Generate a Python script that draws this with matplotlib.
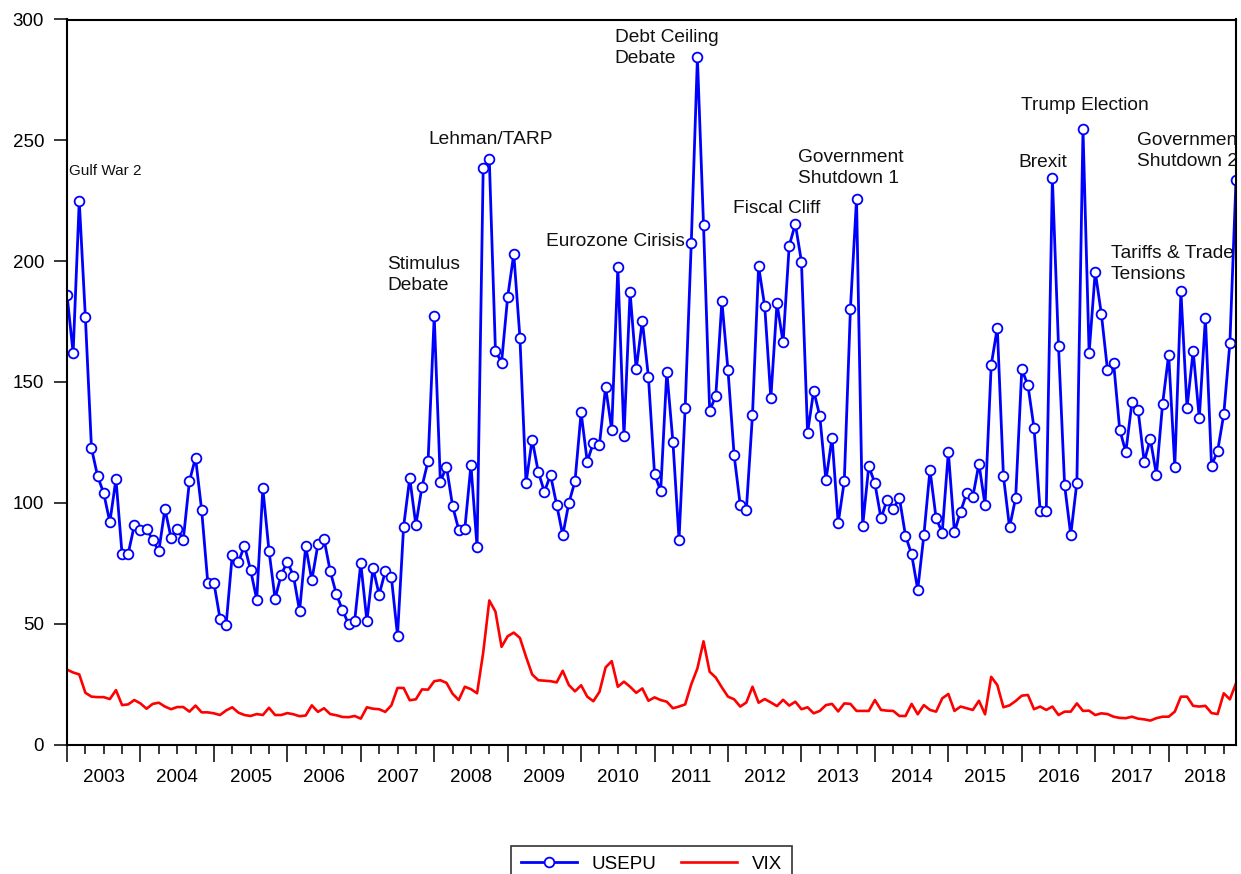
import matplotlib
matplotlib.use('Agg')
import matplotlib.pyplot as plt
import numpy as np

plt.rcParams['font.family'] = ['Liberation Sans', 'DejaVu Sans']

# monthly, Jan 2003 .. Dec 2018
years = [str(y) for y in range(2003, 2019)]

usepu = [186.1, 162, 225, 177, 122.6, 111, 104, 92, 109.8, 78.7, 79, 90.7,
         88.7, 89.3, 84.6, 80, 97.5, 85.6, 89.2, 84.8, 108.9, 118.7, 97, 67,
         67, 52.1, 49.5, 78.5, 75.4, 82.3, 72.1, 60, 106, 80.2, 60.3, 70.3,
         75.6, 69.8, 55.2, 82, 68, 82.8, 84.9, 71.8, 62.3, 55.7, 49.8, 51.1,
         75, 51.1, 73, 62, 71.6, 69.2, 45.1, 90.2, 110.3, 90.8, 106.7, 117.4,
         177.4, 108.7, 115, 98.7, 88.9, 89.3, 115.6, 81.6, 238.5, 242.1, 163, 158,
         185.2, 203, 168.4, 108.2, 126.2, 112.8, 104.6, 111.5, 99.3, 86.6, 100, 108.9,
         137.4, 117, 124.9, 124.1, 148, 130.2, 197.4, 127.5, 187.2, 155.2, 175.4, 152,
         111.8, 104.9, 154.3, 125.2, 84.8, 139.3, 207.7, 284.3, 214.9, 138.2, 144.1, 183.4,
         154.8, 119.7, 99, 97.2, 136.4, 197.9, 181.3, 143.3, 182.5, 166.4, 206.4, 215.4,
         199.8, 129, 146.4, 135.9, 109.3, 127, 91.6, 109, 180.3, 225.7, 90.3, 115.2,
         108, 93.6, 101.3, 97.4, 102.1, 86.4, 78.7, 64.1, 86.6, 113.6, 93.6, 87.7,
         121, 87.9, 96.4, 104, 102.5, 116.2, 99, 156.9, 172.5, 111.1, 89.8, 102.1,
         155.2, 148.7, 131, 96.7, 96.7, 234.3, 164.8, 107.2, 86.7, 108.4, 254.6, 162,
         195.6, 178.2, 155.1, 158, 130.3, 121, 141.6, 138.4, 117, 126.4, 111.6, 140.8,
         161.3, 114.9, 187.5, 139.3, 162.8, 134.9, 176.6, 115.4, 121.5, 136.6, 166.1, 233.6]

vix = [31, 29.8, 29, 21.4, 19.8, 19.6, 19.6, 18.8, 22.5, 16.3, 16.6, 18.4,
       17, 14.8, 16.8, 17.3, 15.7, 14.6, 15.5, 15.5, 13.6, 16.1, 13.3, 13.3,
       12.9, 12.2, 14.1, 15.4, 13.2, 12.2, 11.8, 12.6, 12.2, 15.2, 12.2, 12.2,
       13, 12.5, 11.7, 12, 16.2, 13.5, 15, 12.6, 12.1, 11.4, 11.3, 11.8,
       10.7, 15.4, 14.8, 14.6, 13.5, 16.2, 23.4, 23.4, 18.3, 18.7, 22.8, 22.7,
       26.2, 26.6, 25.5, 21, 18.4, 23.9, 22.9, 21.2, 38, 59.6, 55, 40.4,
       44.8, 46.3, 44.1, 36.3, 29, 26.6, 26.4, 26.2, 25.7, 30.5, 24.6, 22,
       24.5, 19.8, 17.9, 21.8, 31.9, 34.5, 23.9, 26, 23.9, 21.4, 23.2, 18.1,
       19.5, 18.4, 17.7, 15, 15.7, 16.6, 24.9, 31.5, 42.7, 30.1, 27.7, 23.6,
       19.8, 18.7, 15.7, 17.4, 23.9, 17.3, 18.8, 17.4, 15.9, 18.5, 16.1, 17.7,
       14.6, 15.4, 12.9, 13.9, 16.3, 16.8, 13.7, 17, 16.8, 13.9, 13.9, 13.9,
       18.4, 14.3, 14, 13.9, 11.8, 11.8, 16.8, 12.5, 16.3, 14.3, 13.6, 19.1,
       20.9, 13.9, 15.7, 15, 14.3, 18.1, 12.5, 28, 24.6, 15.4, 16.2, 18,
       20.2, 20.5, 14.6, 15.7, 14.3, 15.7, 12.2, 13.6, 13.6, 17, 13.9, 14,
       12.2, 12.9, 12.6, 11.5, 11, 10.9, 11.5, 10.7, 10.4, 9.9, 10.9, 11.5,
       11.5, 13.6, 19.8, 19.8, 16, 15.7, 16, 13, 12.6, 21.2, 18.7, 25.3]

event_labels = ['Gulf War 2', 'Stimulus\nDebate', 'Lehman/TARP', 'Debt Ceiling\nDebate',
                'Eurozone Cirisis', 'Fiscal Cliff', 'Government\nShutdown 1', 'Brexit',
                'Trump Election', 'Government\nShutdown 2', 'Tariffs & Trade\nTensions']


fig = plt.figure(figsize=(12.41, 8.74), dpi=100)
ax = fig.add_axes([67 / 1241, 1 - 744.5 / 874, (1236 - 67) / 1241, (744.5 - 19.5) / 874])

x = np.arange(len(usepu))
ax.plot(x, usepu, color='blue', lw=2.0, marker='o', ms=7, mfc='white',
        mec='blue', mew=1.3, label='USEPU')
ax.plot(x, vix, color='red', lw=1.9, label='VIX')

ax.set_xlim(0, len(usepu) - 1)
ax.set_ylim(0, 300)
ax.set_yticks(range(0, 301, 50))

# year boundaries: long ticks, quarters: short ticks, year name under mid-year
ax.set_xticks(np.arange(0, len(usepu), 12))
ax.set_xticklabels([])
quarters = [i for i in range(0, len(usepu), 3) if i % 12 != 0]
ax.set_xticks(quarters, minor=True)
ax.set_xticklabels([years[i // 12] if i % 12 == 6 else '' for i in quarters], minor=True)

ax.tick_params(axis='y', direction='out', length=9.5, width=1.1, labelsize=13.5, pad=7)
ax.tick_params(axis='x', which='major', direction='out', length=12.5, width=1.1)
ax.tick_params(axis='x', which='minor', direction='out', length=6.5, width=1.1,
               labelsize=13.5, pad=11.5)
for s in ax.spines.values():
    s.set_linewidth(1.5)

# annotation positions (month index, value)
pos = [(0.4, 237.3), (52.3, 194.4), (59.0, 250.5), (89.5, 288.2), (78.3, 208.2),
       (108.8, 221.9), (119.4, 238.5), (155.4, 241.0), (155.8, 264.6), (174.8, 245.5),
       (170.5, 198.9)]
for lab, (px, py) in zip(event_labels, pos):
    fs = 11 if lab == 'Gulf War 2' else 13.8
    ax.text(px, py, lab, fontsize=fs, ha='left', va='center', linespacing=1.3,
            color='#111111', clip_on=True)

leg = fig.legend(loc='upper center', bbox_to_anchor=(651.5 / 1241, 1 - 837 / 874), ncol=2,
                 fontsize=13.5, frameon=True, fancybox=False, edgecolor='black',
                 handlelength=3.0, columnspacing=1.3, borderpad=0.5)
leg.get_frame().set_linewidth(1.2)

fig.savefig('out.png', dpi=100)
